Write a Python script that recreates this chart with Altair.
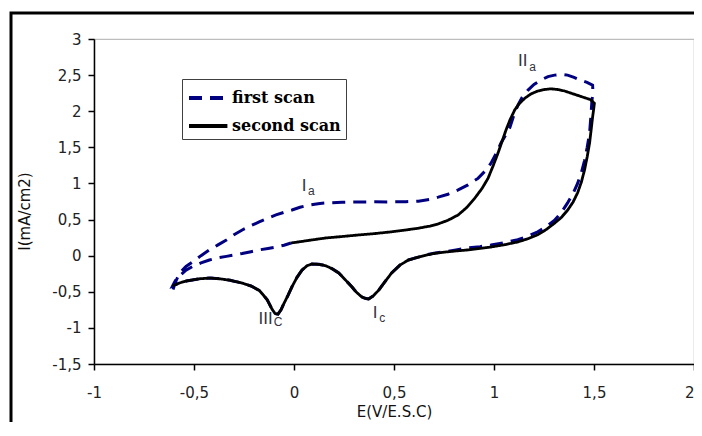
import altair as alt
import pandas as pd

# ---------------- data ----------------
first_E = [-0.605, -0.59, -0.572, -0.54, -0.507, -0.465, -0.423, -0.38, -0.338, -0.3,
           -0.259, -0.215, -0.174, -0.13, -0.09, -0.05, -0.01, 0.03, 0.075, 0.12,
           0.159, 0.24, 0.323, 0.40, 0.488, 0.56, 0.622, 0.68, 0.721, 0.77,
           0.821, 0.87, 0.92, 0.955, 0.985, 1.01, 1.035, 1.06, 1.08, 1.10,
           1.119, 1.14, 1.169, 1.2, 1.234, 1.27, 1.303, 1.335, 1.368, 1.40,
           1.433, 1.465, 1.493,
           1.495, 1.49, 1.485, 1.478, 1.466, 1.453, 1.437, 1.418, 1.395, 1.368,
           1.337, 1.303, 1.26, 1.219, 1.17, 1.119, 1.05, 0.985, 0.93, 0.871,
           0.81, 0.756, 0.70, 0.657, 0.622, 0.572, 0.53, 0.488, 0.455, 0.423,
           0.395, 0.373, 0.355, 0.338, 0.31, 0.289, 0.255, 0.224, 0.19, 0.159,
           0.125, 0.09, 0.065, 0.04, 0.015, -0.01, -0.03, -0.05, -0.065, -0.08,
           -0.095, -0.11, -0.134, -0.155, -0.174, -0.215, -0.259, -0.32, -0.373, -0.42,
           -0.473, -0.537, -0.575, -0.607,
           -0.6, -0.59, -0.572, -0.54, -0.507, -0.465, -0.423, -0.38, -0.338, -0.3,
           -0.259, -0.215, -0.174, -0.13, -0.09, -0.05, -0.015]
first_I = [-0.47, -0.35, -0.24, -0.15, -0.087, 0.0, 0.08, 0.15, 0.217, 0.29,
           0.356, 0.415, 0.467, 0.52, 0.564, 0.60, 0.633, 0.67, 0.70, 0.72,
           0.73, 0.74, 0.744, 0.745, 0.744, 0.748, 0.755, 0.78, 0.81, 0.85,
           0.91, 0.98, 1.07, 1.17, 1.28, 1.41, 1.56, 1.68, 1.78, 1.95,
           2.08, 2.19, 2.29, 2.37, 2.43, 2.48, 2.50, 2.51, 2.50, 2.47,
           2.43, 2.40, 2.36,
           2.25, 2.16, 1.95, 1.70, 1.50, 1.32, 1.15, 1.0, 0.86, 0.73,
           0.60, 0.49, 0.40, 0.33, 0.27, 0.22, 0.18, 0.148, 0.125, 0.107,
           0.08, 0.055, 0.035, 0.01, -0.02, -0.06, -0.13, -0.24, -0.36, -0.48,
           -0.56, -0.60, -0.59, -0.57, -0.5, -0.43, -0.33, -0.24, -0.18, -0.14,
           -0.12, -0.115, -0.14, -0.2, -0.3, -0.43, -0.55, -0.66, -0.75, -0.81,
           -0.80, -0.74, -0.61, -0.54, -0.48, -0.42, -0.38, -0.34, -0.32, -0.31,
           -0.32, -0.35, -0.38, -0.42,
           -0.38, -0.33, -0.28, -0.2, -0.15, -0.1, -0.06, -0.03, -0.01, 0.01,
           0.03, 0.055, 0.08, 0.10, 0.12, 0.145, 0.175]

second_E = [-0.015, 0.07, 0.159, 0.24, 0.323, 0.40, 0.488, 0.57, 0.622, 0.68,
            0.721, 0.77, 0.821, 0.865, 0.905, 0.94, 0.97, 0.995, 1.02, 1.04,
            1.06, 1.08, 1.104, 1.128, 1.154, 1.185, 1.219, 1.25, 1.284, 1.32,
            1.353, 1.385, 1.418, 1.45, 1.483, 1.502,
            1.498, 1.493, 1.486, 1.478, 1.466, 1.453, 1.437, 1.418, 1.395, 1.368,
            1.337, 1.303, 1.26, 1.219, 1.17, 1.119, 1.05, 0.985, 0.93, 0.871,
            0.81, 0.756, 0.70, 0.657, 0.622, 0.572, 0.53, 0.488, 0.455, 0.423,
            0.395, 0.373, 0.355, 0.338, 0.31, 0.289, 0.255, 0.224, 0.19, 0.159,
            0.125, 0.09, 0.065, 0.04, 0.015, -0.01, -0.03, -0.05, -0.065, -0.08,
            -0.095, -0.11, -0.134, -0.155, -0.174, -0.215, -0.259, -0.32, -0.373, -0.42,
            -0.473, -0.537, -0.575, -0.607]
second_I = [0.175, 0.21, 0.245, 0.265, 0.287, 0.305, 0.33, 0.36, 0.38, 0.41,
            0.44, 0.49, 0.564, 0.67, 0.80, 0.93, 1.07, 1.24, 1.42, 1.58,
            1.74, 1.88, 2.02, 2.11, 2.18, 2.24, 2.28, 2.30, 2.31, 2.30,
            2.28, 2.25, 2.22, 2.19, 2.16, 2.11,
            2.02, 1.92, 1.75, 1.56, 1.37, 1.19, 1.02, 0.87, 0.74, 0.63,
            0.53, 0.45, 0.36, 0.29, 0.235, 0.19, 0.15, 0.12, 0.10, 0.08,
            0.065, 0.05, 0.03, 0.005, -0.02, -0.06, -0.13, -0.24, -0.36, -0.48,
            -0.56, -0.60, -0.59, -0.57, -0.5, -0.43, -0.33, -0.24, -0.18, -0.14,
            -0.12, -0.115, -0.14, -0.2, -0.3, -0.43, -0.55, -0.66, -0.75, -0.81,
            -0.80, -0.74, -0.61, -0.54, -0.48, -0.42, -0.38, -0.34, -0.32, -0.31,
            -0.32, -0.35, -0.38, -0.42]

series_names = ["first scan", "second scan"]
series_colors = ["#000080", "#000000"]

x_ticks = [-1, -0.5, 0, 0.5, 1, 1.5, 2]
y_ticks = [-1.5, -1, -0.5, 0, 0.5, 1, 1.5, 2, 2.5, 3]

ann_text = ["I", "II", "III", "I"]
ann_E = [0.050, 1.144, -0.142, 0.405]
ann_I = [0.958, 2.690, -0.870, -0.800]
sub_text = ["a", "a", "C", "c"]
sub_E = [0.087, 1.193, -0.080, 0.441]
sub_I = [0.896, 2.614, -0.925, -0.863]

# ---------------- tables ----------------
df = pd.concat([
    pd.DataFrame({"scan": series_names[0], "E": first_E, "I": first_I, "i": range(len(first_E))}),
    pd.DataFrame({"scan": series_names[1], "E": second_E, "I": second_I, "i": range(len(second_E))}),
])
ann = pd.DataFrame({"t": ann_text, "E": ann_E, "I": ann_I})
sub = pd.DataFrame({"t": sub_text, "E": sub_E, "I": sub_I})

lab = "replace(toString(datum.value), '.', ',')"

xs = alt.Scale(domain=[-1, 2], nice=False, zero=False)
ys = alt.Scale(domain=[-1.5, 3], nice=False, zero=False)

x_axis = alt.Axis(
    values=x_ticks, labelExpr=lab, title="E(V/E.S.C)", labelOverlap=False,
    labelAlign={"condition": {"test": "datum.value == 2", "value": "right"}, "value": "center"},
    labelPadding=15, titleX=300, titleY=47, titleAlign="center", titleBaseline="middle")
y_axis = alt.Axis(
    values=y_ticks, labelExpr=lab, title="I(mA/cm2)", labelOverlap=False,
    labelPadding=7, titleX=-70, titleY=172, titleAngle=270,
    titleAlign="center", titleBaseline="middle")

x_enc = alt.X("E:Q", scale=xs, axis=x_axis)
y_enc = alt.Y("I:Q", scale=ys, axis=y_axis)

color = alt.Color("scan:N", title=None,
                  scale=alt.Scale(domain=series_names, range=series_colors))
dash = alt.StrokeDash("scan:N", title=None,
                      scale=alt.Scale(domain=series_names, range=[[13, 8], [1, 0]]))

base = alt.Chart(df).encode(x=x_enc, y=y_enc, color=color, strokeDash=dash,
                            order=alt.Order("i:Q"))
first = base.transform_filter(alt.datum.scan == series_names[0]).mark_line(strokeWidth=3)
second = base.transform_filter(alt.datum.scan == series_names[1]).mark_line(strokeWidth=2.8)

ann_layer = alt.Chart(ann).mark_text(
    font="Liberation Sans", fontSize=17, color="#333340", align="center", baseline="middle"
).encode(x=x_enc, y=y_enc, text="t:N")
sub_layer = alt.Chart(sub).mark_text(
    font="Liberation Sans", fontSize=12, color="#333340", align="center", baseline="middle"
).encode(x=x_enc, y=y_enc, text="t:N")

frame = alt.Chart(pd.DataFrame({"k": [0]})).mark_rect(
    filled=False, stroke="black", strokeWidth=3
).encode(x=alt.value(-83), x2=alt.value(760), y=alt.value(-26), y2=alt.value(560))

chart = alt.layer(first, second, ann_layer, sub_layer, frame).properties(
    width=600, height=325,
    autosize=alt.AutoSizeParams(type="none"),
    padding={"left": 86, "top": 31, "right": 0, "bottom": 58},
    background="white",
).configure_view(
    stroke="#BDBDBD", strokeWidth=1.2, fill="white"
).configure_axis(
    grid=False, domainColor="black", domainWidth=1.5, tickColor="black",
    tickWidth=1.5, tickSize=6, labelFont="DejaVu Sans", labelFontSize=15,
    labelColor="#222222", labelFlush=False, labelOverlap=False,
    titleFont="DejaVu Sans", titleFontSize=15, titleFontWeight="normal", titleColor="#111111"
).configure_legend(
    orient="none", legendX=88, legendY=40, strokeColor="#404040", fillColor="white",
    padding=5, symbolType="M-1,0L2.2,0", symbolSize=576, symbolStrokeWidth=4,
    labelFont="DejaVu Serif", labelFontWeight="bold", labelFontSize=16,
    labelColor="black", labelOffset=17, rowPadding=6, labelLimit=300
)

chart.save("out.html", embed_options={"renderer": "svg", "actions": False})
